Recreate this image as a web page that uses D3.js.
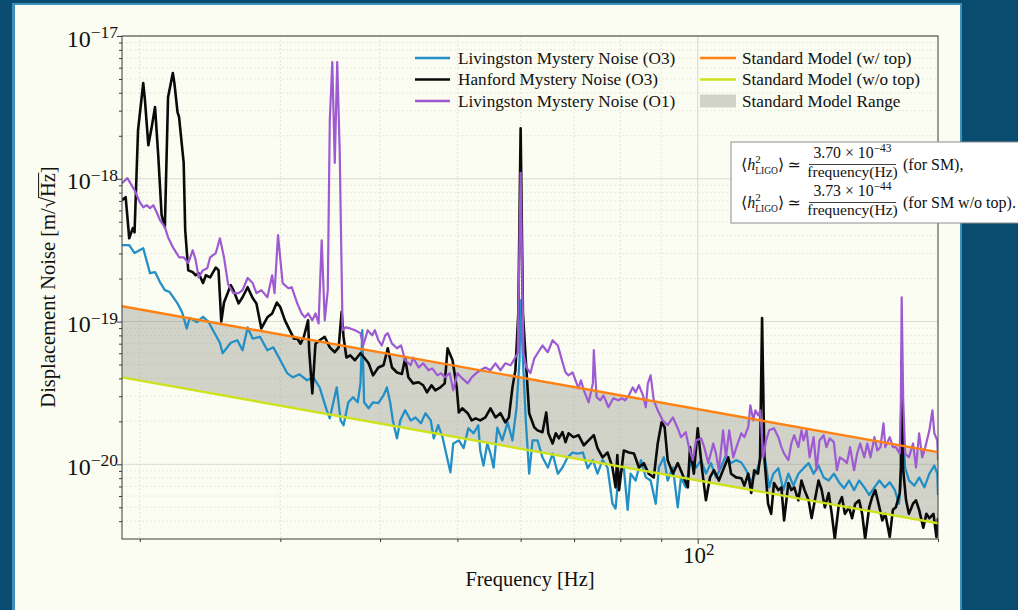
<!DOCTYPE html>
<html>
<head>
<meta charset="utf-8">
<script src="https://cdn.jsdelivr.net/npm/d3@7"></script>
<style>
  html, body { margin: 0; padding: 0; background: #0a4b70; overflow: hidden; }
  svg { display: block; }
  text { font-family: "Liberation Serif", "Times New Roman", "DejaVu Serif", serif; fill: #111; }
</style>
</head>
<body>
<svg id="chart" width="1018" height="610"></svg>
<script>
// ---------------------------------------------------------------------------
// Displacement-noise spectra, amplitude in units of 1e-20 m/sqrt(Hz)
// ---------------------------------------------------------------------------
const NOISE_UNIT = 1e-20;

const livingstonO3Freq = [19.0,19.4,19.7,20.2,20.6,20.9,21.2,21.5,21.8,22.3,22.6,22.9,23.1,23.6,24.0,24.4,24.7,25.2,25.4,26.0,26.5,26.9,27.3,27.7,28.3,28.9,29.4,30.0,30.6,31.1,31.7,32.4,33.0,33.6,34.3,34.6,35.3,35.7,36.0,36.5,37.0,37.5,37.8,38.0,38.2,38.7,39.2,39.8,40.4,40.8,41.2,41.5,42.0,42.4,43.0,43.7,44.3,45.0,45.6,46.3,46.7,47.3,47.9,48.4,49.0,49.4,50.2,50.9,51.6,52.4,53.1,53.4,53.9,54.5,55.0,55.5,56.1,56.9,57.8,58.6,59.3,59.8,60.0,60.4,60.9,61.5,62.1,63.0,63.9,64.9,65.8,66.8,67.7,68.7,69.7,70.7,71.8,72.8,73.9,74.9,76.0,77.1,78.2,78.9,79.6,80.8,81.7,82.4,83.6,84.9,86.1,87.3,88.6,89.4,90.7,91.7,93.1,94.4,95.3,96.6,98.1,99.5,101,102.4,103.9,105.4,106.9,108.5,110.1,111.7,113.4,115,116.7,118.4,119.8,120.5,121.5,122.9,124.4,126.2,128,129.9,131.8,133.7,135.7,137.7,139.7,141.7,143.8,145.9,148.1,150.3,152.5,154.7,157,159.3,161.7,164,166.5,168.9,171.5,174,176.6,178.7,179.7,180.3,181.9,184,186.8,189.5,192.3,195.1,197.9,199.6,200];
const livingstonO3Asd = [34.3,34.3,30.2,32.6,21.8,22.2,18.9,16.6,16.1,13.4,11.6,8.95,10.6,9.9,10.8,9.9,8.7,7.1,6.0,7.1,7.4,6.3,9.1,7.6,7.8,6.3,6.6,5.36,4.35,4.07,4.27,3.88,4.07,3.46,2.39,2.1,3.46,2.03,1.88,2.72,2.95,2.72,3.69,8.69,2.72,2.47,2.72,2.68,3.04,3.46,2.68,2.03,1.52,2.03,2.39,2.03,2.13,1.94,2.28,2.03,1.52,1.88,1.55,1.19,0.88,1.40,1.47,1.30,1.79,1.65,1.88,1.25,0.98,1.40,1.19,0.95,1.81,1.47,1.97,1.47,2.51,5.36,14.1,5.36,2.03,0.86,1.47,1.47,1.12,0.95,1.19,0.86,0.95,1.12,1.21,1.19,1.21,0.94,1.07,0.86,1.07,0.95,0.53,0.49,0.86,0.95,0.48,0.86,0.77,1.07,0.81,0.77,0.53,0.95,1.12,0.77,0.95,0.50,0.81,0.69,1.12,0.95,1.07,0.86,1.02,0.81,0.95,1.16,1.02,1.07,1.03,0.91,0.75,0.88,1.07,1.47,1.07,0.69,0.86,0.94,0.66,0.86,0.71,0.86,0.94,1.02,0.86,0.98,0.81,0.77,0.86,0.75,0.68,0.77,0.66,0.77,0.69,0.61,0.69,0.77,0.69,0.75,0.66,0.53,0.74,2.13,0.95,0.77,0.71,0.81,0.69,0.86,0.98,0.86,0.61];

const hanfordO3Freq = [19.0,19.2,19.3,19.4,19.6,19.7,19.9,20.2,20.3,20.5,20.7,20.9,21.1,21.3,21.5,21.7,22.0,22.1,22.3,22.4,22.7,22.8,23.0,23.3,23.5,23.7,24.0,24.2,24.5,24.9,25.1,25.3,25.5,26.0,26.2,26.6,26.9,27.3,27.7,28.0,28.4,28.9,29.3,29.7,30.0,30.4,30.7,31.2,31.5,31.8,32.1,32.5,32.6,32.9,33.2,33.6,34.1,34.6,35.1,35.5,35.8,36.0,36.3,36.7,37.2,37.8,38.2,38.7,39.2,39.8,40.4,40.9,41.4,42.0,42.6,43.0,43.4,44.0,44.7,45.3,45.8,46.4,46.9,47.6,48.2,48.6,49.3,49.9,50.2,50.7,51.5,52.1,52.7,53.4,54.2,55.0,55.8,56.6,57.4,58.0,58.6,59.1,59.6,60.0,60.4,60.9,61.5,62.4,63.0,63.9,64.6,65.0,65.8,66.4,67.0,67.7,68.3,68.9,69.9,70.9,72.0,73.0,74.1,74.9,76.0,77.1,78.2,78.9,79.3,79.7,80.8,82.0,83.2,84.4,85.6,86.8,88.1,89.1,90.1,90.9,91.7,93.1,94.4,95.8,97.2,97.8,98.9,100,101.2,102.4,103.6,104.8,106.3,107.9,109.2,110.1,111.7,113.4,114.4,115.7,116.7,117.7,119,119.7,120.4,121.2,122.5,123.6,124.6,126.2,127.3,128.3,129.9,131,132.1,133.7,134.9,136.1,137.7,138.9,140.2,141.7,143,144.3,145.9,147.2,148.5,150.3,151.6,152.9,154.7,156.1,157.5,159.3,160.7,162.1,164,165.4,166.9,168.9,170.3,171.8,174,175.6,177.1,179.1,179.7,180.1,180.8,182.4,183.9,186.1,187.7,189.4,191.7,193.4,195.1,197.4,199.1,200];
const hanfordO3Asd = [70.8,74.3,53.8,38.3,45.1,42.2,219,468,355,172,230,318,142,55.6,45.8,373,550,468,293,270,129,43.6,22.9,22.2,21.1,21.8,18.6,21.1,20.4,23.9,22.9,10.0,13.6,18.0,16.6,13.4,14.8,17.4,14.6,13.4,8.95,10.7,11.4,13.6,12.6,10.2,9.1,7.6,7.6,7.0,7.8,10.2,6.3,3.14,7.0,7.4,7.8,6.6,6.1,6.6,11.7,7.8,5.6,5.8,5.36,6.0,5.6,5.1,4.2,4.77,4.94,6.5,4.77,4.4,4.3,5.5,4.07,3.69,3.76,3.58,3.19,3.58,3.30,3.46,3.69,6.5,5.36,3.46,2.31,2.47,2.28,2.03,2.1,2.03,2.13,2.47,2.13,2.28,1.97,2.13,3.46,4.56,11.4,226,11.4,5.36,2.28,1.82,1.73,1.68,2.31,1.65,1.40,1.65,1.52,1.68,1.43,1.65,1.55,1.60,1.36,1.47,1.60,1.30,1.12,1.21,0.95,0.69,1.16,0.66,1.25,1.21,1.19,0.95,1.02,0.86,0.81,1.40,1.97,1.82,1.07,0.86,1.02,0.84,0.69,1.32,0.86,1.79,0.95,0.56,0.81,0.91,0.77,0.95,1.12,0.86,0.81,0.80,0.71,0.86,0.63,0.91,0.86,1.12,10.6,1.12,0.53,0.45,0.74,0.66,0.69,0.405,0.74,0.66,0.69,0.56,0.77,0.66,0.56,0.42,0.56,0.77,0.66,0.50,0.63,0.45,0.30,0.53,0.59,0.45,0.50,0.42,0.53,0.56,0.45,0.30,0.50,0.59,0.66,0.50,0.405,0.45,0.31,0.48,0.50,0.63,0.95,5.36,0.95,0.56,0.45,0.53,0.56,0.48,0.36,0.45,0.42,0.45,0.31,0.42];

const livingstonO1Freq = [19.0,19.3,19.7,20.0,20.2,20.4,20.6,20.8,21.0,21.2,21.5,21.7,22.0,22.4,22.7,23.0,23.3,23.5,23.7,24.0,24.3,24.5,24.9,25.2,25.5,25.8,26.2,26.6,26.9,27.3,27.7,28.0,28.4,28.9,29.3,29.5,29.8,30.2,30.7,31.0,31.5,31.9,32.2,32.5,32.9,33.2,33.5,33.8,34.1,34.4,34.6,34.85,35.1,35.35,35.6,35.9,36.2,36.7,37.2,37.8,38.1,38.6,39.1,39.4,39.8,40.2,40.6,40.9,41.4,42.0,42.5,43.0,43.7,44.0,44.7,45.3,46.0,46.5,47.2,47.7,48.2,48.9,49.4,50.0,50.7,51.5,52.1,52.8,53.4,54.2,55.0,55.8,56.6,57.4,58.3,58.8,59.5,60.0,60.5,61.0,61.7,62.4,63.0,63.9,64.9,65.8,66.8,67.7,68.3,68.9,69.7,70.3,70.9,71.4,72.0,73.0,73.9,74.1,74.7,75.5,76.2,77.3,78.4,79.5,80.4,81.1,82.0,82.9,83.6,84.4,85.4,86.1,86.6,87.3,88.1,89.1,90.4,91.7,93.1,94.4,95.3,96.6,97.5,98.6,99.5,101,101.9,103.1,104.6,105.4,106.3,107.6,108.5,109.5,110.8,111.7,113.4,114.4,115.7,116.4,117.4,118.1,119.1,119.8,120.8,121.8,122.9,124.6,126.2,127.3,128.3,129.9,131,132.1,133.7,134.9,135.7,136.9,138.1,139.7,140.9,142.1,143.8,145,146.3,148.1,149.4,150.7,152.5,153.8,155.2,157,158.4,159.8,161.7,163.1,164.6,166.5,167.9,169.4,170.9,171.8,174,175.6,177.1,179.1,179.7,180.1,180.9,181.9,183.9,186.1,187.7,189.4,191.1,192.8,195.1,196.8,197.9,199.6,200];
const livingstonO1Asd = [93.1,101,83.2,68.5,63.2,65.3,62.3,65.3,58.3,51.3,45.8,39.0,33.2,28.2,28.2,25.7,31.6,26.9,20.4,22.9,23.6,28.2,30.1,38.3,28.2,18.3,15.8,15.8,16.6,20.2,18.6,15.8,16.6,14.8,21.1,15.8,40.3,18.6,17.1,17.4,13.4,11.4,10.7,11.4,10.2,11.4,9.7,37.1,10.2,16.6,257,656,129,656,159,8.7,9.1,8.95,8.7,8.3,6.8,8.7,8.0,8.7,7.4,6.8,8.0,8.3,7.0,6.5,6.8,5.36,4.94,5.6,4.77,5.1,4.56,4.7,4.2,4.35,4.07,4.35,3.30,4.35,4.0,3.69,4.07,4.35,4.56,4.77,4.56,5.1,4.56,5.1,4.94,5.36,6.0,110,6.0,4.77,4.35,5.5,6.0,6.8,6.1,7.4,6.8,5.2,4.4,4.2,4.4,3.88,3.40,3.88,3.30,2.72,3.69,6.3,2.95,2.81,3.04,2.51,2.9,2.81,2.9,2.81,3.04,3.46,3.19,3.58,3.04,2.51,3.69,4.2,2.81,2.39,2.03,1.88,2.13,1.79,1.55,1.68,1.32,1.07,1.47,1.52,1.32,1.02,1.40,1.19,0.91,1.73,1.12,1.73,1.12,1.30,1.65,1.55,1.82,2.59,2.03,2.39,2.2,2.39,1.12,1.47,1.73,1.79,1.55,1.32,1.19,1.07,1.40,1.60,1.32,1.73,1.47,1.73,1.12,1.55,0.91,1.47,1.60,1.32,1.52,1.43,0.91,1.12,1.07,1.02,1.32,0.91,1.19,1.40,1.12,1.40,1.12,1.55,1.25,1.32,1.94,1.32,1.55,1.32,1.32,1.19,2.81,14.8,2.81,1.19,1.12,1.40,0.95,1.65,1.12,1.32,1.73,2.39,1.65,1.47,1.07];

// Standard Model expectation: <h^2_LIGO> = coefficient / frequency(Hz)
const smCoefficients = [3.70e-43, 3.73e-44];   // with top, without top
const ARM_LENGTH_M = 4000;

// axis ticks
const xMajorTicks = [100];
const xMinorTicks = [20, 30, 40, 50, 60, 70, 80, 90, 200];
const yMajorExponents = [-20, -19, -18, -17];

const seriesLabels = ["Livingston Mystery Noise (O3)", "Hanford Mystery Noise (O3)", "Livingston Mystery Noise (O1)"];
const smLabels = ["Standard Model (w/ top)", "Standard Model (w/o top)", "Standard Model Range"];
const seriesColors = ["#2290c6", "#0a0a0a", "#9d5ad3"];
const smColors = ["#ff8112", "#cde21c"];

// ---------------------------------------------------------------------------
const W = 1018, H = 610;
const plot = { left: 122, right: 938, top: 36, bottom: 539 };
const svg = d3.select("#chart");

// slide backdrop
svg.append("rect").attr("width", W).attr("height", H).attr("fill", "#0a4b70");
svg.append("rect").attr("x", 12).attr("y", 3).attr("width", 950).attr("height", H).attr("fill", "#3f8fbd");
svg.append("rect").attr("x", 15).attr("y", 5).attr("width", 945).attr("height", H).attr("fill", "#fcfdf2");

const x = d3.scaleLog().domain([19, 200]).range([plot.left, plot.right]);
const y = d3.scaleLog().domain([3e-21, 1e-17]).range([plot.bottom, plot.top]);

const yMajorTicks = yMajorExponents.map(e => Math.pow(10, e));
const yMinorTicks = [];
for (let e = -21; e <= -18; e++) {
  for (let m = 2; m <= 9; m++) {
    const v = m * Math.pow(10, e);
    if (v >= 3e-21 && v <= 1e-17) yMinorTicks.push(v);
  }
}

// grid
const grid = svg.append("g");
grid.selectAll("line.gx").data(xMinorTicks.filter(d => d < 200)).join("line")
  .attr("x1", d => x(d)).attr("x2", d => x(d)).attr("y1", plot.top).attr("y2", plot.bottom)
  .attr("stroke", "#dcded3").attr("stroke-width", 0.8).attr("stroke-dasharray", "2,2");
grid.selectAll("line.gxm").data(xMajorTicks).join("line")
  .attr("x1", d => x(d)).attr("x2", d => x(d)).attr("y1", plot.top).attr("y2", plot.bottom)
  .attr("stroke", "#d6d8ce").attr("stroke-width", 1);
grid.selectAll("line.gy").data(yMinorTicks).join("line")
  .attr("x1", plot.left).attr("x2", plot.right).attr("y1", d => y(d)).attr("y2", d => y(d))
  .attr("stroke", "#e2e4d9").attr("stroke-width", 0.8).attr("stroke-dasharray", "2,2");
grid.selectAll("line.gym").data(yMajorTicks).join("line")
  .attr("x1", plot.left).attr("x2", plot.right).attr("y1", d => y(d)).attr("y2", d => y(d))
  .attr("stroke", "#d9dbd0").attr("stroke-width", 1);

// clip to the axes box
svg.append("defs").append("clipPath").attr("id", "plotClip")
  .append("rect").attr("x", plot.left).attr("y", plot.top)
  .attr("width", plot.right - plot.left).attr("height", plot.bottom - plot.top);
const layer = svg.append("g").attr("clip-path", "url(#plotClip)");

// Standard Model curves as displacement noise versus frequency
const smValue = (coef, f) => ARM_LENGTH_M * Math.sqrt(coef) / f;
const fEnds = x.domain();
const smCurves = smCoefficients.map(c => fEnds.map(f => ({ f, v: smValue(c, f) })));

// range band between the two model curves
const band = fEnds.map(f => ({ f, hi: smValue(smCoefficients[0], f), lo: smValue(smCoefficients[1], f) }));
layer.append("path").datum(band)
  .attr("d", d3.area().x(d => x(d.f)).y0(d => y(d.lo)).y1(d => y(d.hi)))
  .attr("fill", "#808078").attr("fill-opacity", 0.34);

// noise spectra
const line = d3.line().x(d => x(d.f)).y(d => y(d.v));
const series = [
  { f: livingstonO3Freq, a: livingstonO3Asd, w: 2.3 },
  { f: hanfordO3Freq, a: hanfordO3Asd, w: 2.6 },
  { f: livingstonO1Freq, a: livingstonO1Asd, w: 2.2 }
];
series.forEach((s, i) => {
  const pts = s.f.map((f, k) => ({ f, v: s.a[k] * NOISE_UNIT }));
  layer.append("path").datum(pts).attr("d", line)
    .attr("fill", "none").attr("stroke", seriesColors[i]).attr("stroke-width", s.w)
    .attr("stroke-linejoin", "round");
});

smCurves.forEach((pts, i) => {
  layer.append("path").datum(pts).attr("d", line)
    .attr("fill", "none").attr("stroke", smColors[i]).attr("stroke-width", 2.4);
});

// axes box
svg.append("rect").attr("x", plot.left).attr("y", plot.top)
  .attr("width", plot.right - plot.left).attr("height", plot.bottom - plot.top)
  .attr("fill", "none").attr("stroke", "#3a3a3a").attr("stroke-width", 1);

function styleAxis(g) {
  g.select(".domain").remove();
  g.selectAll(".tick line").attr("stroke", "#3a3a3a");
  g.selectAll(".tick text").remove();
}
svg.append("g").attr("transform", `translate(${plot.left},0)`)
  .call(d3.axisLeft(y).tickValues(yMajorTicks).tickSize(5)).call(styleAxis);
svg.append("g").attr("transform", `translate(${plot.left},0)`)
  .call(d3.axisLeft(y).tickValues(yMinorTicks).tickSize(3)).call(styleAxis);
svg.append("g").attr("transform", `translate(0,${plot.bottom})`)
  .call(d3.axisBottom(x).tickValues(xMajorTicks).tickSize(5)).call(styleAxis);
svg.append("g").attr("transform", `translate(0,${plot.bottom})`)
  .call(d3.axisBottom(x).tickValues(xMinorTicks).tickSize(3)).call(styleAxis);

// power-of-ten tick labels
function powerLabel(sel, exponent, supSize) {
  sel.append("tspan").text("10");
  sel.append("tspan").attr("dy", -8.5).attr("font-size", supSize)
    .text(exponent < 0 ? "\u2212" + (-exponent) : String(exponent));
}
yMajorExponents.forEach(e => {
  svg.append("text").attr("x", plot.left - 4).attr("y", y(Math.pow(10, e)) + 10.5)
    .attr("text-anchor", "end").attr("font-size", 24).call(powerLabel, e, 17.5);
});
xMajorTicks.forEach(v => {
  svg.append("text").attr("x", x(v) + 1).attr("y", plot.bottom + 24)
    .attr("text-anchor", "middle").attr("font-size", 23).call(powerLabel, Math.round(Math.log10(v)), 17);
});

// axis titles
svg.append("text").attr("x", 530).attr("y", 586).attr("text-anchor", "middle")
  .attr("font-size", 20.5).text("Frequency [Hz]");

const yTitle = svg.append("g").attr("transform", "translate(55,287) rotate(-90)");
const yt = yTitle.append("text").attr("x", 0).attr("y", 0).attr("text-anchor", "middle").attr("font-size", 20.5);
yt.append("tspan").text("Displacement Noise [m/\u221A");
yt.append("tspan").text("Hz");
yt.append("tspan").text("]");
{
  const full = "Displacement Noise [m/\u221AHz]";
  const node = yt.node();
  const iRad = full.indexOf("\u221A");
  const r0 = node.getExtentOfChar(iRad);
  const r1 = node.getExtentOfChar(iRad + 2);
  const barY = -20.5 * 0.80;
  yTitle.append("line").attr("x1", r0.x + r0.width - 0.8).attr("x2", r1.x + r1.width + 0.5)
    .attr("y1", barY).attr("y2", barY).attr("stroke", "#111").attr("stroke-width", 1);
}

// legend
const legendRows = [58, 79.5, 101];
const legend = svg.append("g").attr("font-size", 17.2);
seriesLabels.forEach((t, i) => {
  legend.append("line").attr("x1", 415).attr("x2", 450).attr("y1", legendRows[i]).attr("y2", legendRows[i])
    .attr("stroke", seriesColors[i]).attr("stroke-width", 2.6);
  legend.append("text").attr("x", 458).attr("y", legendRows[i] + 5.5).text(t);
});
smLabels.forEach((t, i) => {
  if (i < 2) {
    legend.append("line").attr("x1", 700).attr("x2", 736).attr("y1", legendRows[i]).attr("y2", legendRows[i])
      .attr("stroke", smColors[i]).attr("stroke-width", 2.6);
  } else {
    legend.append("rect").attr("x", 700).attr("y", legendRows[i] - 6.5).attr("width", 36).attr("height", 13)
      .attr("fill", "#808078").attr("fill-opacity", 0.34);
  }
  legend.append("text").attr("x", 742).attr("y", legendRows[i] + 5.5).text(t);
});

// formula box
const note = svg.append("g");
note.append("rect").attr("x", 731).attr("y", 142).attr("width", 300).attr("height", 81)
  .attr("fill", "#ffffff").attr("stroke", "#8e8e8e").attr("stroke-width", 1);

function formulaRow(base, coef, tail) {
  const fs = 16;
  const t = note.append("text").attr("x", 741).attr("y", base).attr("font-size", fs);
  t.append("tspan").text("\u27E8");
  t.append("tspan").attr("font-style", "italic").text("h");
  t.append("tspan").attr("dy", -7).attr("font-size", 11).text("2");
  t.append("tspan").attr("dx", -5.5).attr("dy", 11).attr("font-size", 9.5).text("LIGO");
  t.append("tspan").attr("dy", -4).text("\u27E9");
  t.append("tspan").attr("dx", 3).text("\u2243");
  const mant = coef.toExponential(2).split("e");
  const num = note.append("text").attr("x", 852.5).attr("y", base - 12).attr("text-anchor", "middle").attr("font-size", 15.8);
  num.append("tspan").text(mant[0] + " \u00D7 10");
  num.append("tspan").attr("dy", -6).attr("font-size", 11.5).text("\u2212" + mant[1].replace("-", ""));
  note.append("line").attr("x1", 809).attr("x2", 896).attr("y1", base - 5.5).attr("y2", base - 5.5)
    .attr("stroke", "#111").attr("stroke-width", 0.8);
  note.append("text").attr("x", 852.5).attr("y", base + 7).attr("text-anchor", "middle").attr("font-size", 15.5)
    .text("frequency(Hz)");
  note.append("text").attr("x", 903).attr("y", base).attr("font-size", fs).text(tail);
}
formulaRow(170, smCoefficients[0], "(for SM),");
formulaRow(208, smCoefficients[1], "(for SM w/o top).");
</script>
</body>
</html>
